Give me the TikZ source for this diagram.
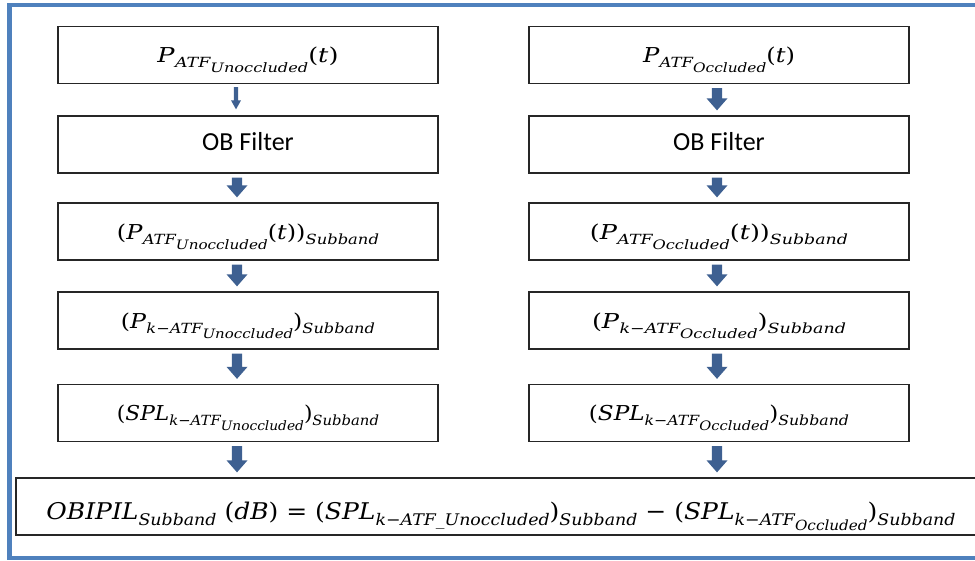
\documentclass[tikz,border=0pt]{standalone}
\usepackage{fontspec}
\usepackage{graphicx}
\usetikzlibrary{calc}
\newfontfamily\calib{Carlito}
\newfontfamily\mfont{DejaVu Serif}
\definecolor{framecol}{HTML}{4F81BD}
\definecolor{arrowcol}{HTML}{3E6091}
\definecolor{boxline}{HTML}{262626}
% formula stretched horizontally to a given width, height kept
\newcommand\fitw[2]{\resizebox{#1}{\height}{#2}}
% italic variable and two levels of lowered subscripts
\newcommand\iv[1]{\textit{#1}}
\newcommand\sbA[1]{\raisebox{-5pt}{\fontsize{14}{14}\selectfont\itshape #1}}
\newcommand\sbB[1]{\raisebox{-5pt}{\fontsize{13}{13}\selectfont\itshape #1}}
\newcommand\sbC[1]{\raisebox{-6pt}{\fontsize{16}{16}\selectfont\itshape #1}}
\newcommand\sbD[1]{\raisebox{-5pt}{\fontsize{14}{14}\selectfont\itshape #1}}
\tikzset{
  box/.style={draw=boxline, line width=1.3pt, rectangle, inner sep=0pt,
    minimum width=380pt, minimum height=57pt, text height=15pt, text depth=0pt,
    font=\mfont\fontsize{20.5}{24}\selectfont},
  filterbox/.style={box, text height=12.4pt, font=\calib\fontsize{26}{30}\selectfont},
  resultbox/.style={box, minimum width=970pt, text height=25pt,
    font=\mfont\fontsize{23}{27}\selectfont},
  blockarrow/.style n args={3}{fill=arrowcol, to path={
    let \p1=(\tikztostart), \p2=(\tikztotarget) in
    (\x1-#1,\y1) -- (\x1+#1,\y1) -- (\x1+#1,\y2+#3) -- (\x1+#2,\y2+#3)
    -- (\x1,\y2) -- (\x1-#2,\y2+#3) -- (\x1-#1,\y2+#3) -- cycle}},
  bigarrow/.style={blockarrow={5.2pt}{10.5pt}{12pt}},
  smallarrow/.style={blockarrow={2.2pt}{5pt}{9pt}},
}
\begin{document}
\begin{tikzpicture}[x=1pt, y=-1pt]
  \useasboundingbox (0,0) rectangle (975,560);
  \clip (0,0) rectangle (975,560);

  % outer frame
  \draw[framecol, line width=4.5pt] (9.5,5) rectangle (1000,558);

  % arrow columns
  \coordinate (colL) at (237,0);
  \coordinate (colR) at (717,0);

  % left chain
  \node[box] (L1) at (248,55)
    {\fitw{181pt}{\iv{P}\sbA{ATF\sbB{Unoccluded}}(\iv{t})}};
  \node[filterbox] (L2) at (248,144.5) {OB Filter};
  \node[box] (L3) at (248,231.5)
    {\fitw{262pt}{(\iv{P}\sbA{ATF\sbB{Unoccluded}}(\iv{t}))\sbA{Subband}}};
  \node[box] (L4) at (248,320.5)
    {\fitw{254pt}{(\iv{P}\sbA{k−ATF\sbB{Unoccluded}})\sbA{Subband}}};
  \node[box] (L5) at (248,413)
    {\fitw{262pt}{(\iv{SPL}\sbA{k−ATF\sbB{Unoccluded}})\sbA{Subband}}};

  % right chain
  \node[box] (R1) at (719,55)
    {\fitw{152pt}{\iv{P}\sbA{ATF\sbB{Occluded}}(\iv{t})}};
  \node[filterbox] (R2) at (719,144.5) {OB Filter};
  \node[box] (R3) at (719,231.5)
    {\fitw{258pt}{(\iv{P}\sbA{ATF\sbB{Occluded}}(\iv{t}))\sbA{Subband}}};
  \node[box] (R4) at (719,320.5)
    {\fitw{254pt}{(\iv{P}\sbA{k−ATF\sbB{Occluded}})\sbA{Subband}}};
  \node[box] (R5) at (719,413)
    {\fitw{260pt}{(\iv{SPL}\sbA{k−ATF\sbB{Occluded}})\sbA{Subband}}};

  % combined result
  \node[resultbox] (B) at (501,506.5)
    {\fitw{909pt}{\iv{OBIPIL}\sbC{Subband} (\iv{dB}) = (\iv{SPL}\sbC{k−ATF\_Unoccluded})\sbC{Subband}
      − (\iv{SPL}\sbC{k−ATF\sbD{Occluded}})\sbC{Subband}}};

  % block arrows, left
  \path[smallarrow] ($(L1.south -| colL)+(-1,3)$) to ($(L2.north -| colL)+(-1,-6)$);
  \foreach \a/\b in {L2/L3, L3/L4, L4/L5, L5/B}
    \path[bigarrow] ($(\a.south -| colL)+(0,4)$) to ($(\b.north -| colL)+(0,-5)$);

  % block arrows, right
  \foreach \a/\b in {R1/R2, R2/R3, R3/R4, R4/R5, R5/B}
    \path[bigarrow] ($(\a.south -| colR)+(0,4)$) to ($(\b.north -| colR)+(0,-5)$);
\end{tikzpicture}
\end{document}
